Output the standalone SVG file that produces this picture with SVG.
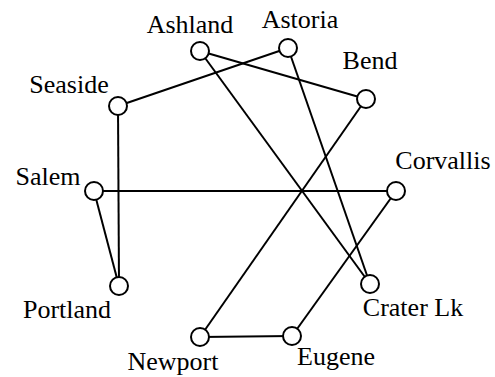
<svg xmlns="http://www.w3.org/2000/svg" width="495" height="377" viewBox="0 0 495 377">
<style>
.n circle{fill:#fff;stroke:#000;stroke-width:2}
.n text{font-family:"Liberation Serif","Times New Roman",serif;font-size:26px;fill:#000;text-anchor:middle}
#edges line{stroke:#000;stroke-width:2}
</style>
<rect width="495" height="377" fill="#fff"/>
<g id="edges">
<line x1="200" y1="51" x2="366" y2="99"/>
<line x1="200" y1="51" x2="370" y2="284"/>
<line x1="288" y1="48" x2="118" y2="106"/>
<line x1="288" y1="48" x2="370" y2="284"/>
<line x1="366" y1="99" x2="200" y2="337"/>
<line x1="118" y1="106" x2="119" y2="286"/>
<line x1="94" y1="191" x2="396" y2="191"/>
<line x1="94" y1="191" x2="119" y2="286"/>
<line x1="396" y1="191" x2="292" y2="336"/>
<line x1="200" y1="337" x2="292" y2="336"/>
</g>
<g id="ashland" class="n"><circle cx="200" cy="51" r="9"/><text x="190" y="33">Ashland</text></g>
<g id="astoria" class="n"><circle cx="288" cy="48" r="9"/><text x="300" y="28">Astoria</text></g>
<g id="bend" class="n"><circle cx="366" cy="99" r="9"/><text x="370" y="69">Bend</text></g>
<g id="seaside" class="n"><circle cx="118" cy="106" r="9"/><text x="69" y="93">Seaside</text></g>
<g id="salem" class="n"><circle cx="94" cy="191" r="9"/><text x="48" y="185">Salem</text></g>
<g id="corvallis" class="n"><circle cx="396" cy="191" r="9"/><text x="443" y="169">Corvallis</text></g>
<g id="portland" class="n"><circle cx="119" cy="286" r="9"/><text x="67" y="318">Portland</text></g>
<g id="craterlk" class="n"><circle cx="370" cy="284" r="9"/><text x="413" y="316">Crater Lk</text></g>
<g id="newport" class="n"><circle cx="200" cy="337" r="9"/><text x="173" y="370">Newport</text></g>
<g id="eugene" class="n"><circle cx="292" cy="336" r="9"/><text x="336" y="365">Eugene</text></g>
</svg>
